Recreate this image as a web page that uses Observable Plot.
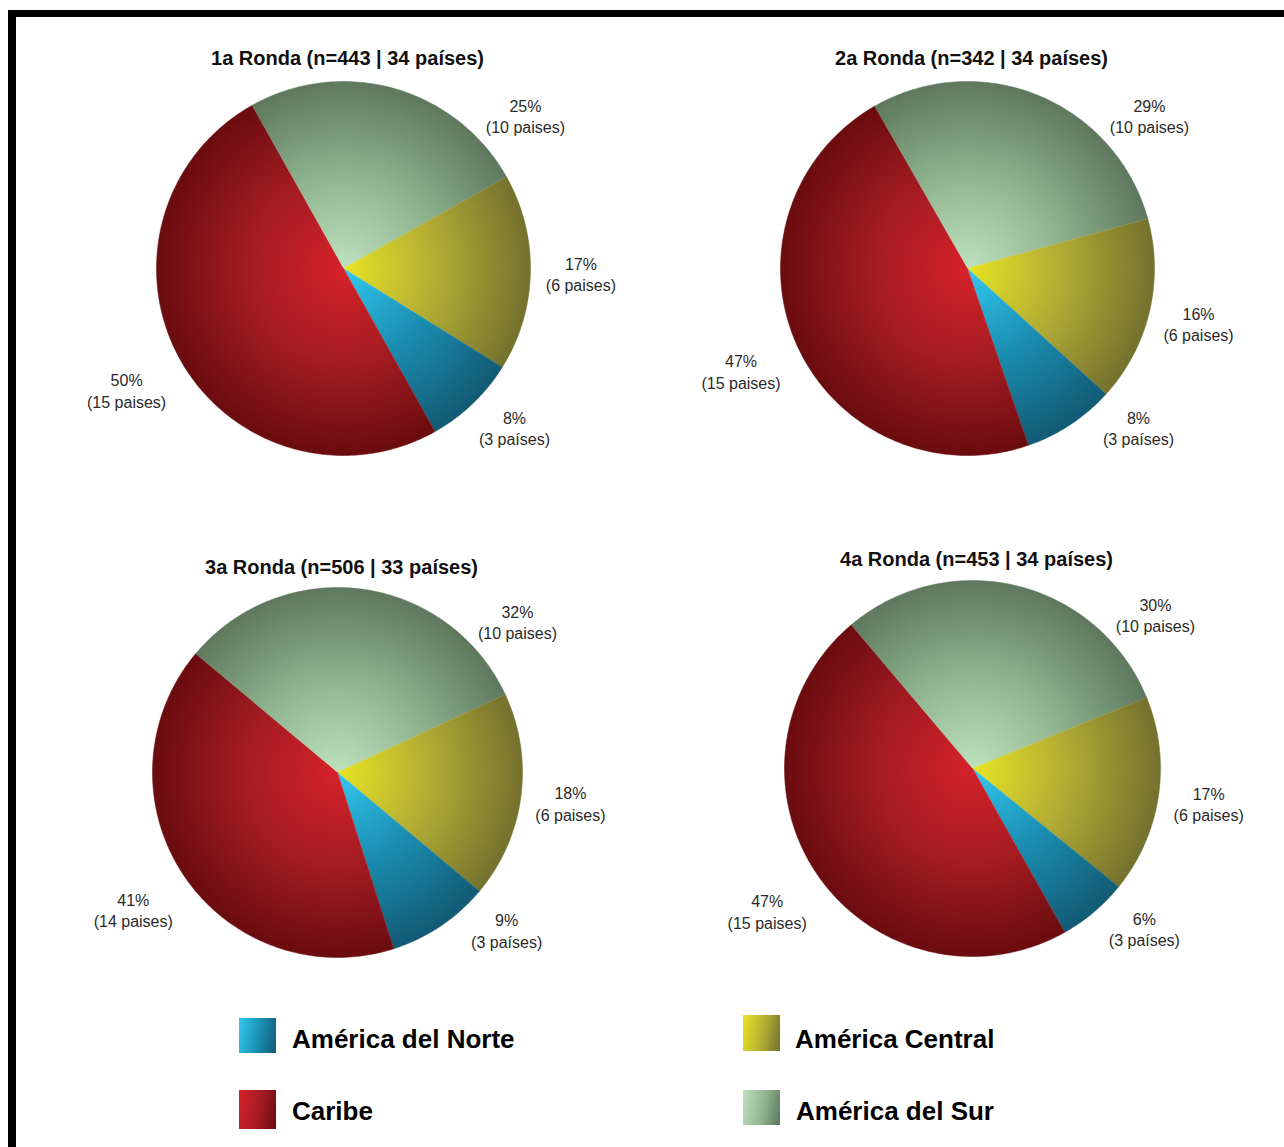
<!DOCTYPE html>
<html>
<head>
<meta charset="utf-8">
<script src="https://cdn.jsdelivr.net/npm/d3@7"></script>
<script src="https://cdn.jsdelivr.net/npm/@observablehq/plot@0.6"></script>
<style>
  html, body { margin: 0; padding: 0; background: #fff; width: 1284px; height: 1147px; overflow: hidden;
    font-family: "Liberation Sans", Arial, sans-serif; }
  #frame { position: absolute; left: 8px; top: 10px; width: 1400px; height: 1300px;
    border-left: 8px solid #000; border-top: 7px solid #000; box-sizing: border-box; }
  .panel { position: absolute; }
  .ptitle { position: absolute; font-weight: bold; font-size: 20px; color: #111; white-space: nowrap;
    transform: translate(-50%, -50%); }
  .sw { position: absolute; width: 37px; }
  .lt { position: absolute; font-weight: bold; font-size: 26px; color: #000; white-space: nowrap;
    transform: translateY(-50%); }
</style>
</head>
<body>
<div id="frame"></div>
<div id="root"></div>
<script>
// ---------------- DATA ----------------
const rounds = ["1a Ronda", "2a Ronda", "3a Ronda", "4a Ronda"];
const respondents = [443, 342, 506, 453];
const totalCountries = [34, 34, 33, 34];

const regions = ["América del Norte", "América Central", "Caribe", "América del Sur"];
const pctNorte   = [8, 8, 9, 6];
const pctCentral = [17, 16, 18, 17];
const pctCaribe  = [50, 47, 41, 47];
const pctSur     = [25, 29, 32, 30];
const countriesNorte   = [3, 3, 3, 3];
const countriesCentral = [6, 6, 6, 6];
const countriesCaribe  = [15, 15, 14, 15];
const countriesSur     = [10, 10, 10, 10];
const countryWord = ["países", "paises", "paises", "paises"]; // per region, as printed

// ---------------- STYLE / LAYOUT ----------------
const palette = {
  "América del Norte": ["#33c8f0", "#1a8db0", "#135a74"],
  "América Central":   ["#e8e424", "#b2ad34", "#74712e"],
  "Caribe":            ["#d6222a", "#a41c22", "#6a0c0f"],
  "América del Sur":   ["#bde2bd", "#8fb48f", "#5e785e"]
};
// clockwise drawing order starting at each pie's start angle
const drawOrder = ["América del Sur", "América Central", "América del Norte", "Caribe"];
const panels = [
  {cx: 343, cy: 268, titleY: 58,  start: 330.7, r: 187},
  {cx: 967, cy: 268, titleY: 58,  start: 330.2, r: 187},
  {cx: 337, cy: 772, titleY: 567, start: 309.9, r: 185},
  {cx: 972, cy: 768, titleY: 559, start: 319.8, r: 188}
];
const W = 600, H = 420;

const pctBy = {"América del Norte": pctNorte, "América Central": pctCentral, "Caribe": pctCaribe, "América del Sur": pctSur};
const cntBy = {"América del Norte": countriesNorte, "América Central": countriesCentral, "Caribe": countriesCaribe, "América del Sur": countriesSur};

const root = document.getElementById("root");
const deg = Math.PI / 180;

rounds.forEach((round, i) => {
  const p = panels[i];
  const R = p.r;
  const rows = drawOrder.map(reg => ({region: reg, value: pctBy[reg][i], n: cntBy[reg][i],
    word: countryWord[regions.indexOf(reg)], key: `g${i}-${regions.indexOf(reg)}`}));
  const arcs = d3.pie().sort(null).value(d => d.value)
    .startAngle(p.start * deg).endAngle(p.start * deg + 2 * Math.PI)(rows);

  // slice outlines (in units of the radius)
  const pts = [];
  arcs.forEach(a => {
    const f = `url(#${a.data.key})`;
    pts.push({x: 0, y: 0, key: a.data.key, fill: f});
    const steps = Math.max(8, Math.ceil((a.endAngle - a.startAngle) / (1 * deg)));
    for (let s = 0; s <= steps; s++) {
      const t = a.startAngle + (a.endAngle - a.startAngle) * s / steps;
      pts.push({x: Math.sin(t), y: Math.cos(t), key: a.data.key, fill: f});
    }
  });

  // labels
  const labels = arcs.map(a => {
    let m = (a.startAngle + a.endAngle) / 2 / deg;
    m = ((m % 360) + 360) % 360;
    let d = 1.27;
    if (a.data.region === "América del Sur") m = Math.max(m > 180 ? m - 360 : m, 50);
    if (a.data.region === "América del Norte") { m = Math.min(m, 133); d = 1.25; }
    if (Math.sin(m * deg) < 0) d = 1.33;
    return {x: d * Math.sin(m * deg), y: d * Math.cos(m * deg),
      text: `${a.data.value}%\n(${a.data.n} ${a.data.word})`};
  });

  const hx = W / 2 / R, hy = H / 2 / R;
  const chart = Plot.plot({
    width: W, height: H, margin: 0,
    x: {domain: [-hx, hx], axis: null},
    y: {domain: [-hy, hy], axis: null},
    color: {type: "identity"},
    style: {background: "transparent", overflow: "visible"},
    marks: [
      Plot.line(pts, {x: "x", y: "y", z: "key", fill: "fill", stroke: "fill", strokeWidth: 0.5}),
      Plot.text(labels, {x: "x", y: "y", text: "text", fontSize: 16, lineHeight: 1.33,
        fill: "#2a2a2a", fontFamily: "Liberation Sans, Arial, sans-serif"})
    ]
  });

  // gradients centred on the pie centre (taken from the scales)
  const sx = chart.scale("x"), sy = chart.scale("y");
  const cx = sx.apply(0), cy = sy.apply(0), rr = sx.apply(1) - sx.apply(0);
  const ns = "http://www.w3.org/2000/svg";
  const defs = document.createElementNS(ns, "defs");
  rows.forEach(r => {
    const g = document.createElementNS(ns, "radialGradient");
    g.setAttribute("id", r.key);
    g.setAttribute("gradientUnits", "userSpaceOnUse");
    g.setAttribute("cx", cx); g.setAttribute("cy", cy); g.setAttribute("r", rr);
    g.setAttribute("fx", cx); g.setAttribute("fy", cy);
    const cols = palette[r.region];
    [[0, cols[0]], [0.5, cols[1]], [1, cols[2]]].forEach(([o, c]) => {
      const st = document.createElementNS(ns, "stop");
      st.setAttribute("offset", o); st.setAttribute("stop-color", c);
      g.appendChild(st);
    });
    defs.appendChild(g);
  });
  chart.insertBefore(defs, chart.firstChild);

  const panel = document.createElement("div");
  panel.className = "panel";
  panel.style.left = (p.cx - W / 2) + "px";
  panel.style.top = (p.cy - H / 2) + "px";
  panel.appendChild(chart);
  root.appendChild(panel);

  const t = document.createElement("div");
  t.className = "ptitle";
  t.style.left = (p.cx + 4.5) + "px";
  t.style.top = p.titleY + "px";
  t.textContent = `${round} (n=${respondents[i]} | ${totalCountries[i]} países)`;
  root.appendChild(t);
});

// legend: [swatch left, swatch top, swatch height, text left, text centre y]
const legendPos = {
  "América del Norte": [239, 1018, 35, 292, 1039],
  "América Central":   [743, 1015, 36, 795, 1039],
  "Caribe":            [239, 1090, 39, 292, 1111],
  "América del Sur":   [743, 1090, 35, 796, 1111]
};
regions.forEach(reg => {
  const [sl, st, sh, tl, ty] = legendPos[reg];
  const c = palette[reg];
  const sw = document.createElement("div");
  sw.className = "sw";
  sw.style.left = sl + "px"; sw.style.top = st + "px"; sw.style.height = sh + "px";
  sw.style.background = `linear-gradient(100deg, ${c[0]} 0%, ${c[1]} 55%, ${c[2]} 100%)`;
  root.appendChild(sw);
  const lt = document.createElement("div");
  lt.className = "lt";
  lt.style.left = tl + "px"; lt.style.top = ty + "px";
  lt.textContent = reg;
  root.appendChild(lt);
});
</script>
</body>
</html>
